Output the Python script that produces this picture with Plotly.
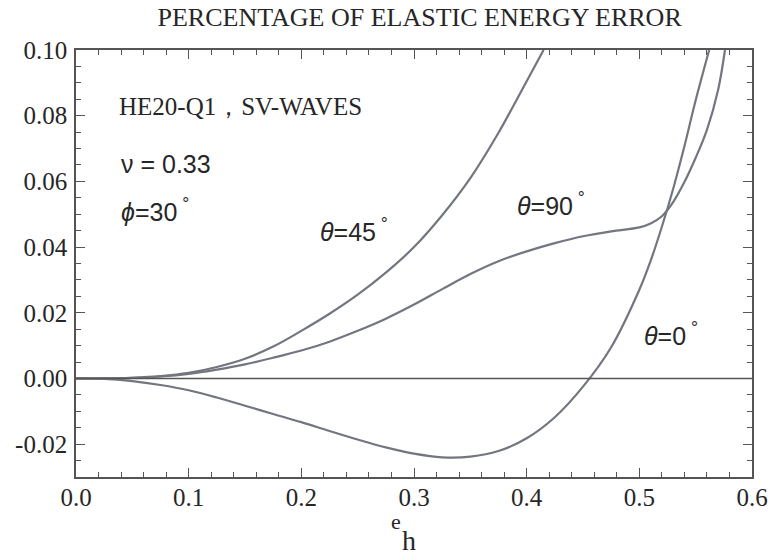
import plotly.graph_objects as go

# ---- data ----
e_45 = [0, 0.025, 0.05, 0.075, 0.1, 0.125, 0.15, 0.175, 0.2, 0.225, 0.25, 0.275,
        0.3, 0.325, 0.35, 0.375, 0.4, 0.415]
err_45 = [0, 0.0000, 0.0002, 0.0007, 0.0017, 0.0035, 0.0060, 0.0097, 0.0145, 0.0197,
          0.0255, 0.0322, 0.0400, 0.0497, 0.0610, 0.0748, 0.0905, 0.1000]

e_90 = [0, 0.025, 0.05, 0.075, 0.1, 0.125, 0.15, 0.175, 0.2, 0.225, 0.25, 0.275,
        0.3, 0.325, 0.35, 0.375, 0.4, 0.425, 0.45, 0.475, 0.5, 0.51, 0.52, 0.53,
        0.54, 0.55, 0.56, 0.57, 0.576]
err_90 = [0, 0.0000, 0.0002, 0.0006, 0.0014, 0.0027, 0.0043, 0.0063, 0.0085, 0.0112,
          0.0145, 0.0182, 0.0225, 0.0272, 0.0318, 0.0357, 0.0387, 0.0412, 0.0433,
          0.0448, 0.0460, 0.0472, 0.0494, 0.0537, 0.0598, 0.0672, 0.0757, 0.0880, 0.1000]

e_0 = [0, 0.025, 0.05, 0.075, 0.1, 0.125, 0.15, 0.175, 0.2, 0.225, 0.25, 0.275,
       0.3, 0.325, 0.35, 0.375, 0.4, 0.425, 0.45, 0.475, 0.5, 0.51, 0.52, 0.53,
       0.54, 0.55, 0.562]
err_0 = [0, -0.0001, -0.0008, -0.0020, -0.0036, -0.0058, -0.0083, -0.0108, -0.0133,
         -0.0160, -0.0186, -0.0210, -0.0229, -0.0240, -0.0238, -0.0221, -0.0182,
         -0.0118, -0.0025, 0.0095, 0.0270, 0.0358, 0.0462, 0.0577, 0.0707, 0.0847, 0.1000]

x_tick_vals = [0.0, 0.1, 0.2, 0.3, 0.4, 0.5, 0.6]
x_tick_labels = ["0.0", "0.1", "0.2", "0.3", "0.4", "0.5", "0.6"]
y_tick_vals = [-0.02, 0.0, 0.02, 0.04, 0.06, 0.08, 0.10]
y_tick_labels = ["-0.02", "0.00", "0.02", "0.04", "0.06", "0.08", "0.10"]

curve_names = ["θ=45°", "θ=90°", "θ=0°"]

SERIF = "Liberation Serif, Times New Roman, serif"
SANS = "Liberation Sans, Arial, sans-serif"
CURVE = "#72767e"
FRAME = "#555555"
TXT = "#262626"

fig = go.Figure()
for xs, ys, nm in [(e_45, err_45, curve_names[0]),
                   (e_90, err_90, curve_names[1]),
                   (e_0, err_0, curve_names[2])]:
    fig.add_trace(go.Scatter(x=xs, y=ys, mode="lines", name=nm,
                             line=dict(color=CURVE, width=2.2, shape="spline", smoothing=1.0),
                             showlegend=False))

# zero line
fig.add_hline(y=0, line=dict(color="#555555", width=1.6))

axis_common = dict(showline=True, linecolor=FRAME, linewidth=1.6, mirror="ticks",
                   ticks="inside", ticklen=9, tickwidth=1.3, tickcolor=FRAME,
                   showgrid=False, zeroline=False,
                   tickfont=dict(family=SERIF, size=25, color=TXT))

fig.update_xaxes(range=[0, 0.6], tickmode="array", tickvals=x_tick_vals, ticktext=x_tick_labels,
                 minor=dict(tickmode="linear", tick0=0, dtick=0.02, ticks="inside", ticklen=5,
                            tickwidth=1.1, tickcolor=FRAME, showgrid=False),
                 ticklabelstandoff=-3, **axis_common)
fig.update_yaxes(range=[-0.03, 0.10], tickmode="array", tickvals=y_tick_vals, ticktext=y_tick_labels,
                 minor=dict(tickmode="linear", tick0=0, dtick=0.005, ticks="inside", ticklen=5,
                            tickwidth=1.1, tickcolor=FRAME, showgrid=False),
                 ticklabelstandoff=2, **axis_common)

ann = []
ann.append(dict(text="HE20-Q1，SV-WAVES", x=0.0367, y=0.0828, xref="x", yref="y",
                xanchor="left", yanchor="middle", showarrow=False,
                font=dict(family=SERIF, size=25, color=TXT)))
ann.append(dict(text="ν = 0.33", x=0.0385, y=0.0653, xref="x", yref="y",
                xanchor="left", yanchor="middle", showarrow=False,
                font=dict(family=SANS, size=25, color=TXT)))
ann.append(dict(text="<i>ϕ</i>=30<sup> °</sup>", x=0.0385, y=0.0512, xref="x", yref="y",
                xanchor="left", yanchor="middle", showarrow=False,
                font=dict(family=SANS, size=25, color=TXT)))
ann.append(dict(text="<i>θ</i>=45<sup> °</sup>", x=0.2150, y=0.0452, xref="x", yref="y",
                xanchor="left", yanchor="middle", showarrow=False,
                font=dict(family=SANS, size=25, color=TXT)))
ann.append(dict(text="<i>θ</i>=90<sup> °</sup>", x=0.390, y=0.0530, xref="x", yref="y",
                xanchor="left", yanchor="middle", showarrow=False,
                font=dict(family=SANS, size=25, color=TXT)))
ann.append(dict(text="<i>θ</i>=0<sup> °</sup>", x=0.502, y=0.0135, xref="x", yref="y",
                xanchor="left", yanchor="middle", showarrow=False,
                font=dict(family=SANS, size=25, color=TXT)))
# axis title: small raised "e" followed by larger "h"
ann.append(dict(text="e", x=0.473, y=0, xref="paper", yref="paper",
                xanchor="center", yanchor="middle", yshift=-44, showarrow=False,
                font=dict(family=SERIF, size=22, color=TXT)))
ann.append(dict(text="h", x=0.492, y=0, xref="paper", yref="paper",
                xanchor="center", yanchor="middle", yshift=-63, showarrow=False,
                font=dict(family=SERIF, size=28, color=TXT)))

fig.update_layout(
    width=780, height=560,
    margin=dict(l=76, r=18, t=50, b=83),
    paper_bgcolor="white", plot_bgcolor="white",
    title=dict(text="PERCENTAGE OF ELASTIC ENERGY ERROR", x=0.538, xanchor="center",
               y=1 - 17 / 560, yanchor="middle",
               font=dict(family=SERIF, size=26, color=TXT)),
    annotations=ann,
)

fig.write_html("out.html")
